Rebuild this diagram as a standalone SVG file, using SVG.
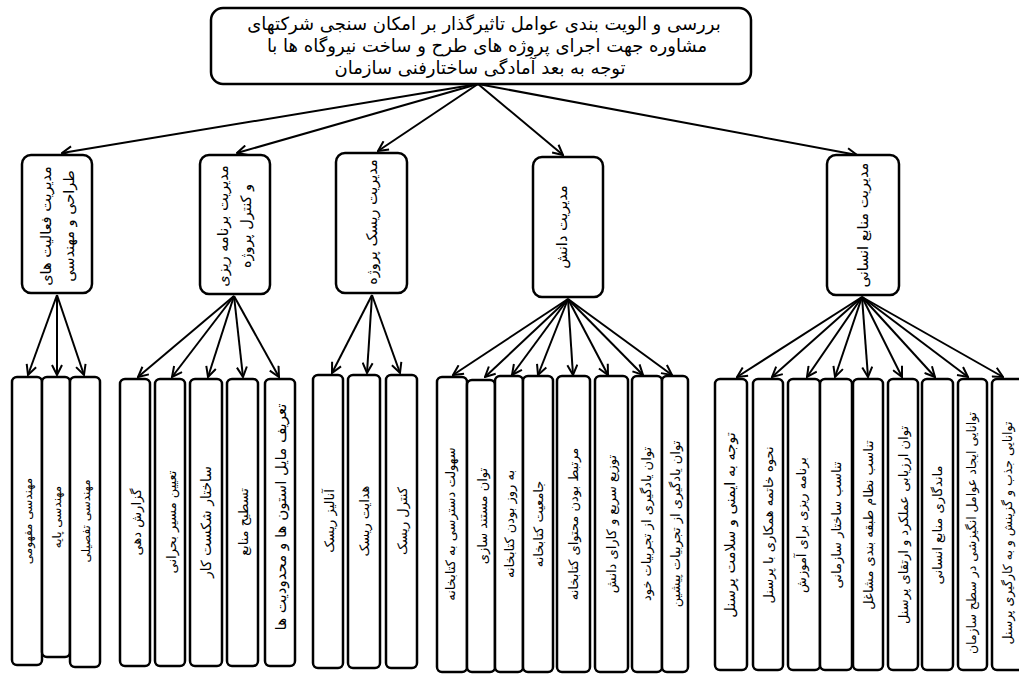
<svg xmlns="http://www.w3.org/2000/svg" width="1019" height="675" viewBox="0 0 1019 675">
<style>
.box{fill:#fff;stroke:#000;stroke-width:2.5}
.t{font-family:"DejaVu Sans",sans-serif;fill:#000;text-anchor:middle;dominant-baseline:central;direction:rtl}
.root{font-size:18px}
.l2{font-size:14.5px}
.l3{font-size:13px}
.c{fill:none;stroke:#000;stroke-width:2}
</style>
<defs>
<marker id="ah" viewBox="0 0 12 12" refX="11" refY="6" markerWidth="12" markerHeight="12" markerUnits="userSpaceOnUse" orient="auto">
<path d="M1,1 L11,6 L1,11" fill="none" stroke="#000" stroke-width="2"/>
</marker>
</defs>
<rect width="1019" height="675" fill="#fff"/>
<g id="connectors">
<line class="c" x1="478" y1="84" x2="62" y2="153" marker-end="url(#ah)"/>
<line class="c" x1="478" y1="84" x2="237" y2="153" marker-end="url(#ah)"/>
<line class="c" x1="478" y1="84" x2="378" y2="151" marker-end="url(#ah)"/>
<line class="c" x1="478" y1="84" x2="563" y2="155" marker-end="url(#ah)"/>
<line class="c" x1="478" y1="84" x2="857" y2="155" marker-end="url(#ah)"/>
<line class="c" x1="57" y1="295" x2="28" y2="375" marker-end="url(#ah)"/>
<line class="c" x1="57" y1="295" x2="57" y2="375" marker-end="url(#ah)"/>
<line class="c" x1="57" y1="295" x2="84" y2="375" marker-end="url(#ah)"/>
<line class="c" x1="234" y1="296" x2="138" y2="377" marker-end="url(#ah)"/>
<line class="c" x1="234" y1="296" x2="172" y2="377" marker-end="url(#ah)"/>
<line class="c" x1="234" y1="296" x2="208" y2="377" marker-end="url(#ah)"/>
<line class="c" x1="234" y1="296" x2="243" y2="377" marker-end="url(#ah)"/>
<line class="c" x1="234" y1="296" x2="279" y2="377" marker-end="url(#ah)"/>
<line class="c" x1="372" y1="295" x2="332" y2="373" marker-end="url(#ah)"/>
<line class="c" x1="372" y1="295" x2="367" y2="373" marker-end="url(#ah)"/>
<line class="c" x1="372" y1="295" x2="400" y2="373" marker-end="url(#ah)"/>
<line class="c" x1="568" y1="299" x2="453" y2="375" marker-end="url(#ah)"/>
<line class="c" x1="568" y1="299" x2="485" y2="377" marker-end="url(#ah)"/>
<line class="c" x1="568" y1="299" x2="512" y2="375" marker-end="url(#ah)"/>
<line class="c" x1="568" y1="299" x2="538" y2="375" marker-end="url(#ah)"/>
<line class="c" x1="568" y1="299" x2="573" y2="375" marker-end="url(#ah)"/>
<line class="c" x1="568" y1="299" x2="608" y2="375" marker-end="url(#ah)"/>
<line class="c" x1="568" y1="299" x2="643" y2="375" marker-end="url(#ah)"/>
<line class="c" x1="568" y1="299" x2="672" y2="375" marker-end="url(#ah)"/>
<line class="c" x1="862" y1="297" x2="737" y2="377" marker-end="url(#ah)"/>
<line class="c" x1="862" y1="297" x2="772" y2="377" marker-end="url(#ah)"/>
<line class="c" x1="862" y1="297" x2="807" y2="377" marker-end="url(#ah)"/>
<line class="c" x1="862" y1="297" x2="835" y2="377" marker-end="url(#ah)"/>
<line class="c" x1="862" y1="297" x2="868" y2="377" marker-end="url(#ah)"/>
<line class="c" x1="862" y1="297" x2="902" y2="377" marker-end="url(#ah)"/>
<line class="c" x1="862" y1="297" x2="935" y2="377" marker-end="url(#ah)"/>
<line class="c" x1="862" y1="297" x2="968" y2="377" marker-end="url(#ah)"/>
<line class="c" x1="862" y1="297" x2="1003" y2="377" marker-end="url(#ah)"/>
</g>
<g id="root">
<rect class="box" x="211" y="8" width="540" height="76" rx="12"/>
<text class="t root" x="484" y="23">بررسی و الویت بندی عوامل تاثیرگذار بر امکان سنجی شرکتهای</text>
<text class="t root" x="487" y="45">مشاوره جهت اجرای پروژه های طرح و ساخت نیروگاه ها با</text>
<text class="t root" x="480" y="67">توجه به بعد آمادگی ساختارفنی سازمان</text>
</g>
<g id="n1">
<rect class="box" x="22" y="155" width="70" height="138" rx="9"/>
<text class="t l2" transform="rotate(-90 46 226)" x="46" y="226">مدیریت فعالیت های</text>
<text class="t l2" transform="rotate(-90 69 226)" x="69" y="226">طراحی و مهندسی</text>
</g>
<g id="n2">
<rect class="box" x="200" y="155" width="70" height="139" rx="9"/>
<text class="t l2" transform="rotate(-90 223 226)" x="223" y="226">مدیریت برنامه ریزی</text>
<text class="t l2" transform="rotate(-90 246 226)" x="246" y="226">و کنترل پروژه</text>
</g>
<g id="n3">
<rect class="box" x="336" y="153" width="71" height="140" rx="9"/>
<text class="t l2" transform="rotate(-90 372 222)" x="372" y="222">مدیریت ریسک پروژه</text>
</g>
<g id="n4">
<rect class="box" x="533" y="157" width="70" height="140" rx="9"/>
<text class="t l2" transform="rotate(-90 562 227)" x="562" y="227">مدیریت دانش</text>
</g>
<g id="n5">
<rect class="box" x="827" y="155" width="72" height="140" rx="9"/>
<text class="t l2" transform="rotate(-90 863 225)" x="863" y="225">مدیریت منابع انسانی</text>
</g>
<g id="g1">
<rect class="box" x="12" y="377" width="30" height="288" rx="5"/>
<text class="t l3" style="font-size:12px" transform="rotate(-90 28 521)" x="28" y="521">مهندسی مفهومی</text>
<rect class="box" x="42" y="377" width="28" height="280" rx="5"/>
<text class="t l3" style="font-size:12px" transform="rotate(-90 57 517)" x="57" y="517">مهندسی پایه</text>
<rect class="box" x="70" y="377" width="30" height="290" rx="5"/>
<text class="t l3" style="font-size:12px" transform="rotate(-90 86 521)" x="86" y="521">مهندسی تفصیلی</text>
</g>
<g id="g2">
<rect class="box" x="120" y="379" width="30" height="287" rx="5"/>
<text class="t l3" transform="rotate(-90 136 522)" x="136" y="522">گزارش دهی</text>
<rect class="box" x="155" y="379" width="30" height="287" rx="5"/>
<text class="t l3" transform="rotate(-90 171 522)" x="171" y="522">تعیین مسیر بحرانی</text>
<rect class="box" x="190" y="379" width="32" height="287" rx="5"/>
<text class="t l3" style="font-size:14px" transform="rotate(-90 206 522)" x="206" y="522">ساختار شکست کار</text>
<rect class="box" x="227" y="379" width="31" height="287" rx="5"/>
<text class="t l3" transform="rotate(-90 243 522)" x="243" y="522">تسطیح منابع</text>
<rect class="box" x="265" y="379" width="30" height="287" rx="5"/>
<text class="t l3" style="font-size:15px" transform="rotate(-90 281 517)" x="281" y="517">تعریف مایل استون ها و محدودیت ها</text>
</g>
<g id="g3">
<rect class="box" x="313" y="375" width="30" height="293" rx="5"/>
<text class="t l3" transform="rotate(-90 329 521)" x="329" y="521">آنالیز ریسک</text>
<rect class="box" x="348" y="375" width="32" height="293" rx="5"/>
<text class="t l3" transform="rotate(-90 364 521)" x="364" y="521">هدایت ریسک</text>
<rect class="box" x="386" y="375" width="31" height="293" rx="5"/>
<text class="t l3" transform="rotate(-90 402 521)" x="402" y="521">کنترل ریسک</text>
</g>
<g id="g4">
<rect class="box" x="437" y="377" width="30" height="295" rx="5"/>
<text class="t l3" transform="rotate(-90 450 524)" x="450" y="524">سهولت دسترسی به کتابخانه</text>
<rect class="box" x="467" y="380" width="28" height="292" rx="5"/>
<text class="t l3" transform="rotate(-90 482 516)" x="482" y="516">توان مستند سازی</text>
<rect class="box" x="495" y="376" width="28" height="296" rx="5"/>
<text class="t l3" transform="rotate(-90 509 524)" x="509" y="524">به روز بودن کتابخانه</text>
<rect class="box" x="523" y="376" width="30" height="296" rx="5"/>
<text class="t l3" transform="rotate(-90 538 524)" x="538" y="524">جامعیت کتابخانه</text>
<rect class="box" x="557" y="376" width="33" height="296" rx="5"/>
<text class="t l3" transform="rotate(-90 573 524)" x="573" y="524">مرتبط بودن محتوای کتابخانه</text>
<rect class="box" x="595" y="376" width="33" height="296" rx="5"/>
<text class="t l3" transform="rotate(-90 611 524)" x="611" y="524">توزیع سریع و کارای دانش</text>
<rect class="box" x="632" y="376" width="30" height="296" rx="5"/>
<text class="t l3" transform="rotate(-90 646 524)" x="646" y="524">توان یادگیری از تجربیات خود</text>
<rect class="box" x="662" y="376" width="26" height="296" rx="5"/>
<text class="t l3" transform="rotate(-90 675 524)" x="675" y="524">توان یادگیری از تجربیات پیشین</text>
</g>
<g id="g5">
<rect class="box" x="715" y="379" width="32" height="291" rx="5"/>
<text class="t l3" style="font-size:14.5px" transform="rotate(-90 730 525)" x="730" y="525">توجه به ایمنی و سلامت پرسنل</text>
<rect class="box" x="753" y="379" width="30" height="291" rx="5"/>
<text class="t l3" transform="rotate(-90 768 525)" x="768" y="525">نحوه خاتمه همکاری با پرسنل</text>
<rect class="box" x="788" y="379" width="32" height="291" rx="5"/>
<text class="t l3" transform="rotate(-90 801 525)" x="801" y="525">برنامه ریزی برای آموزش</text>
<rect class="box" x="820" y="379" width="32" height="291" rx="5"/>
<text class="t l3" transform="rotate(-90 836 525)" x="836" y="525">تناسب ساختار سازمانی</text>
<rect class="box" x="853" y="379" width="30" height="291" rx="5"/>
<text class="t l3" transform="rotate(-90 868 525)" x="868" y="525">تناسب نظام طبقه بندی مشاغل</text>
<rect class="box" x="888" y="379" width="30" height="291" rx="5"/>
<text class="t l3" transform="rotate(-90 903 525)" x="903" y="525">توان ارزیابی عملکرد و ارتقای پرسنل</text>
<rect class="box" x="922" y="379" width="31" height="291" rx="5"/>
<text class="t l3" transform="rotate(-90 937 525)" x="937" y="525">ماندگاری منابع انسانی</text>
<rect class="box" x="958" y="379" width="29" height="291" rx="5"/>
<text class="t l3" style="font-size:12.5px" transform="rotate(-90 971 533)" x="971" y="533">توانایی ایجاد عوامل انگیزشی در سطح سازمان</text>
<rect class="box" x="992" y="379" width="36" height="291" rx="5"/>
<text class="t l3" style="font-size:12.5px" transform="rotate(-90 1007 533)" x="1007" y="533">توانایی جذب و گزینش و به کارگیری پرسنل</text>
</g>
</svg>
